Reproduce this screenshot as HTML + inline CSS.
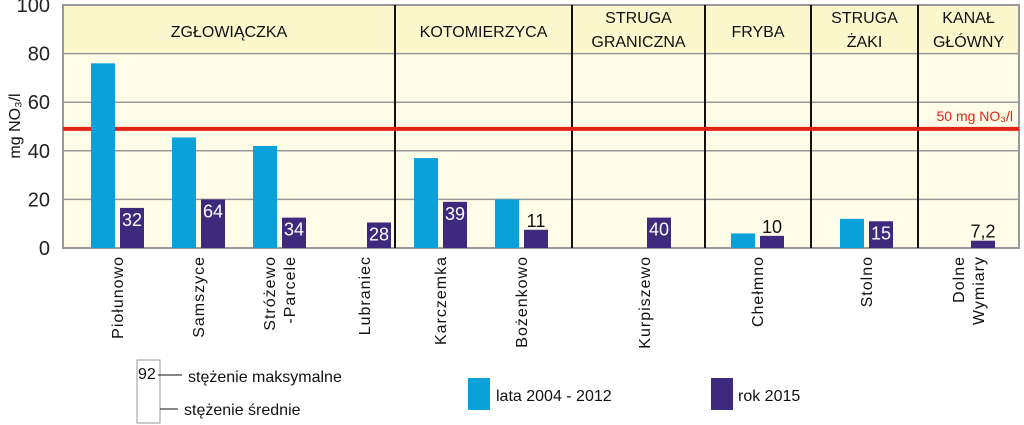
<!DOCTYPE html>
<html><head><meta charset="utf-8"><style>
body{margin:0;background:#fff;width:1024px;height:425px;overflow:hidden}
svg{display:block;font-family:"Liberation Sans",sans-serif}
</style></head><body>
<svg id="chart" width="1024" height="425"></svg>
<script>
const categories=["Piołunowo","Samszyce","Stróżewo|-Parcele","Lubraniec","Karczemka","Bożenkowo","Kurpiszewo","Chełmno","Stolno","Dolne|Wymiary"];
const avg2004=[76,45.5,42,null,37,20,null,6,12,null];
const avg2015=[16.5,20,12.5,10.5,19,7.5,12.5,5,11,3];
const max2015=["32","64","34","28","39","11","40","10","15","7,2"];
const yTicks=[0,20,40,60,80,100];
const limitValue=49;
const groups=["ZGŁOWIĄCZKA","KOTOMIERZYCA","STRUGA|GRANICZNA","FRYBA","STRUGA|ŻAKI","KANAŁ|GŁÓWNY"];
// layout (not data): category centers & group dividers
const catX=[117,198,279,364,440,521,644,757,866,968];
const divX=[63,395,572,705,811,918,1019];
const NS="http://www.w3.org/2000/svg",svg=document.getElementById('chart');
const y=v=>248-v*2.43;
function el(t,a,txt){const e=document.createElementNS(NS,t);for(const k in a)e.setAttribute(k,a[k]);if(txt!=null)e.textContent=txt;svg.appendChild(e);return e;}
let e;
e=el('rect',{x:63,y:5,width:956,height:243,fill:'#fffde8'});

e=el('rect',{x:63,y:5,width:956,height:y(80)-5,fill:'#fcf7cc'});

yTicks.forEach(t=>{
 e=el('line',{x1:63,x2:1019,y1:y(t),y2:y(t),stroke:'#999','stroke-width':1.5});
 
 e=el('text',{x:50,y:y(t)+7,'text-anchor':'end','font-size':20,fill:'#222'},t);
 
});
e=el('rect',{x:63,y:5,width:956,height:243,fill:'none',stroke:'#999','stroke-width':2});

divX.slice(1,-1).forEach(x=>{e=el('line',{x1:x,x2:x,y1:5,y2:248,stroke:'#111','stroke-width':2});
 });
groups.forEach((g,i)=>{const cx=(divX[i]+divX[i+1])/2;const parts=g.split('|');
 parts.forEach((p,j)=>{const yy=parts.length==1?37:23+j*24;
 e=el('text',{x:cx,y:yy,'text-anchor':'middle','font-size':16,fill:'#111'},p);
 });});
e=el('line',{x1:63,x2:1019,y1:y(limitValue),y2:y(limitValue),stroke:'#e2231a','stroke-width':4});

e=el('text',{x:1013,y:y(limitValue)-8,'text-anchor':'end','font-size':14,fill:'#e2231a'},'50 mg NO₃/l');

e=el('text',{transform:'translate(20,126) rotate(-90)','text-anchor':'middle','font-size':16,fill:'#111'},'mg NO₃/l');

categories.forEach((c,i)=>{const cx=catX[i];
 if(avg2004[i]!=null){e=el('rect',{x:cx-26,y:y(avg2004[i]),width:24,height:248-y(avg2004[i]),fill:'#0aa0d9'});
  }
 const px=cx+3;
 e=el('rect',{x:px,y:y(avg2015[i]),width:24,height:248-y(avg2015[i]),fill:'#3d2a7d'});
 
 const inside=248-y(avg2015[i])>20;
 e=el('text',{x:px+12,y:inside?y(avg2015[i])+18:y(avg2015[i])-3,'text-anchor':'middle','font-size':18,fill:inside?'#fff':'#111'},max2015[i]);
 
 const parts=c.split('|');
 parts.forEach((p,j)=>{const off=(j-(parts.length-1)/2)*20;
  e=el('text',{transform:`translate(${cx+6+off},256) rotate(-90)`,'text-anchor':'end','font-size':16,fill:'#111','letter-spacing':1},p);
  });
});
// legend
e=el('rect',{x:137,y:360,width:23,height:63,fill:'#fff',stroke:'#999'});

e=el('text',{x:138,y:379,'font-size':16,fill:'#111'},'92');

el('line',{x1:158,x2:182,y1:375,y2:375,stroke:'#111'});
el('line',{x1:160,x2:178,y1:409,y2:409,stroke:'#111'});
e=el('text',{x:188,y:382,'font-size':16,fill:'#111'},'stężenie maksymalne');

e=el('text',{x:184,y:415,'font-size':16,fill:'#111'},'stężenie średnie');

e=el('rect',{x:468,y:378,width:22,height:32,fill:'#0aa0d9'});

e=el('text',{x:496,y:401,'font-size':16,fill:'#111'},'lata 2004 - 2012');

e=el('rect',{x:711,y:378,width:22,height:32,fill:'#3d2a7d'});

e=el('text',{x:738,y:401,'font-size':16,fill:'#111'},'rok 2015');

</script>
</body></html>
